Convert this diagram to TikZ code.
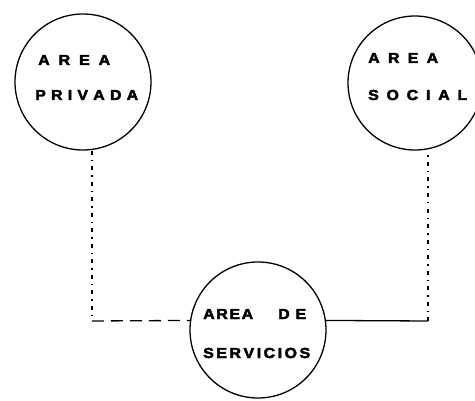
\documentclass[tikz,border=0pt]{standalone}
\usepackage{fontspec}
\setmainfont{Liberation Sans}
\newfontfamily\heavyfont[FakeBold=3,FakeStretch=1.1]{Liberation Sans Bold}
\begin{document}
\begin{tikzpicture}[x=1pt,y=1pt,
  zone/.style={draw,circle,line width=1.3pt,minimum size=#1,inner sep=0pt},
  lbl/.style={anchor=base west,inner sep=0pt,font=\heavyfont\fontsize{14.5}{16}\selectfont},
  dotline/.style={line width=1.2pt,dash pattern=on 4pt off 5pt on 1.5pt off 5pt},
  dashline/.style={line width=1.3pt,dash pattern=on 12pt off 7pt},
  solidline/.style={line width=1.3pt}]
\useasboundingbox (0,0) rectangle (475,400);
% circles
\node[zone=136pt] (L) at (83,318) {};
\node[zone=134pt] (R) at (415,317) {};
\node[zone=136pt] (B) at (258,70) {};
% texts
\node[lbl] (l1) at (38,335) {\makebox[72pt][s]{A\hfill R\hfill E\hfill A}};
\node[lbl] (l2) at (35,300) {\makebox[103pt][s]{P\hfill R\hfill I\hfill V\hfill A\hfill D\hfill A}};
\node[lbl] (r1) at (368,337) {\makebox[70pt][s]{A\hfill R\hfill E\hfill A}};
\node[lbl] (r2) at (368,300) {\makebox[99pt][s]{S\hfill O\hfill C\hfill I\hfill A\hfill L}};
\node[lbl] (b1) at (203,81) {\makebox[50pt][s]{A\hfill R\hfill E\hfill A}};
\node[lbl] (b2) at (278,81) {\makebox[28pt][s]{D\hfill E}};
\node[lbl] (b3) at (203,42) {\makebox[107pt][s]{S\hfill E\hfill R\hfill V\hfill I\hfill C\hfill I\hfill O\hfill S}};
% connectors
\coordinate (cl) at (92,79);
\coordinate (cr) at (428,79);
\draw[dotline] (L.south -| cl) -- (cl);
\draw[dashline] (cl) -- (B.172);
\draw[solidline] (B.8) -- (cr);
\draw[dotline] (cr) -- (R.south -| cr);
\end{tikzpicture}
\end{document}
